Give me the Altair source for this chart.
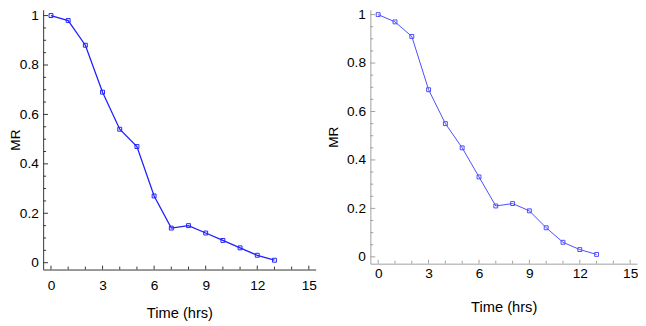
import altair as alt
import pandas as pd

time = [0, 1, 2, 3, 4, 5, 6, 7, 8, 9, 10, 11, 12, 13]
mr_left = [1.0, 0.98, 0.88, 0.69, 0.54, 0.47, 0.27, 0.14, 0.15, 0.12, 0.09, 0.06, 0.03, 0.01]
mr_right = [1.0, 0.97, 0.91, 0.69, 0.55, 0.45, 0.33, 0.21, 0.22, 0.19, 0.12, 0.06, 0.03, 0.01]

x_major = [0, 3, 6, 9, 12, 15]
x_minor = [1, 2, 4, 5, 7, 8, 10, 11, 13, 14]
y_major = [0, 0.2, 0.4, 0.6, 0.8, 1.0]
y_minor = [0.05, 0.1, 0.15, 0.25, 0.3, 0.35, 0.45, 0.5, 0.55, 0.65, 0.7, 0.75, 0.85, 0.9, 0.95]

FONT = "Liberation Sans, Arial, sans-serif"


def panel(mr, w, h, xdom, ydom, line_color, line_w, pt_color, axis_color, tick_color,
          xlab_pad, xtitle_pad, ylab_pad, ytitle_pad):
    df = pd.DataFrame({"t": time, "mr": mr})
    xs = alt.Scale(domain=xdom, nice=False, zero=False)
    ys = alt.Scale(domain=ydom, nice=False, zero=False)
    xaxis = alt.Axis(values=x_major, ticks=False, grid=False, domainColor=axis_color,
                     domainWidth=1, labelFont=FONT, labelFontSize=14, labelColor="#000",
                     labelPadding=xlab_pad, labelFlush=False, labelOverlap=False,
                     title="Time (hrs)", titleFont=FONT, titleFontSize=15,
                     titleFontWeight="normal", titleColor="#000", titlePadding=xtitle_pad)
    yaxis = alt.Axis(values=y_major, format="~g", ticks=False, grid=False, domainColor=axis_color,
                     domainWidth=1, labelFont=FONT, labelFontSize=14, labelColor="#000",
                     labelPadding=ylab_pad, labelFlush=False, labelOverlap=False,
                     title="MR", titleFont=FONT, titleFontSize=14,
                     titleFontWeight="normal", titleColor="#000", titlePadding=ytitle_pad)
    X = lambda f: alt.X(f, scale=xs, axis=xaxis)
    Y = lambda f: alt.Y(f, scale=ys, axis=yaxis)
    line = alt.Chart(df).mark_line(color=line_color, strokeWidth=line_w).encode(
        x=X("t:Q"), y=Y("mr:Q"))
    pts = alt.Chart(df).mark_point(shape="square", size=16, filled=False, color=pt_color,
                                   strokeWidth=1, opacity=1).encode(x=X("t:Q"), y=Y("mr:Q"))
    ymaj = alt.Chart(pd.DataFrame({"v": y_major})).mark_rule(color=tick_color, strokeWidth=1).encode(
        y=Y("v:Q"), x=alt.value(0), x2=alt.value(5))
    ymin = alt.Chart(pd.DataFrame({"v": y_minor})).mark_rule(color=tick_color, strokeWidth=1).encode(
        y=Y("v:Q"), x=alt.value(0), x2=alt.value(3))
    xmaj = alt.Chart(pd.DataFrame({"v": x_major})).mark_rule(color=tick_color, strokeWidth=1).encode(
        x=X("v:Q"), y=alt.value(h), y2=alt.value(h - 4))
    xmin = alt.Chart(pd.DataFrame({"v": x_minor})).mark_rule(color=tick_color, strokeWidth=1).encode(
        x=X("v:Q"), y=alt.value(h), y2=alt.value(h - 3))
    return alt.layer(line, pts, ymaj, ymin, xmaj, xmin).properties(width=w, height=h)


left = panel(mr_left, 279, 266, [-0.4545, 15.398], [-0.0277, 1.0237],
             "#1f1fff", 1.3, "#2020ff", "#333333", "#333333", 9, 14, 5, -3)
right = panel(mr_right, 273, 260, [-0.465, 15.407], [-0.0282, 1.0202],
              "#4b4bff", 1.0, "#4b4bff", "#a0a0a0", "#a0a0a0", 3, 20, 5, 6)

chart = alt.hconcat(left, right, spacing=10).properties(
    padding={"left": 0, "top": -4, "right": 0, "bottom": 0}
).configure_view(strokeWidth=0)

chart.save("out.html", embed_options={"renderer": "svg", "actions": False})
